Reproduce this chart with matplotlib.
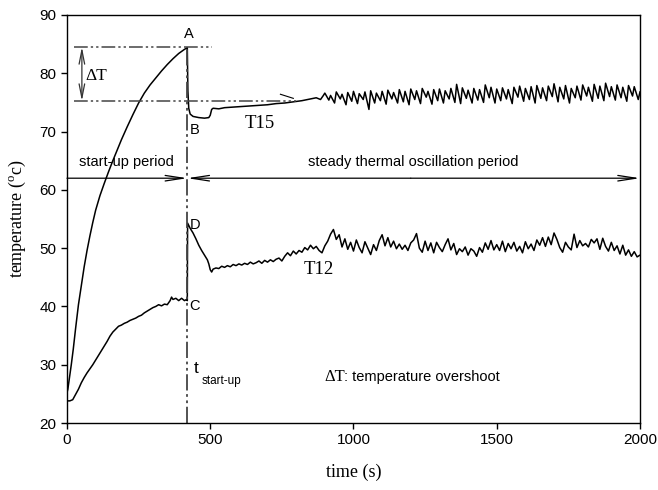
import numpy as np
import matplotlib
matplotlib.use("Agg")
import matplotlib.pyplot as plt

plt.rcParams['font.family'] = ['Liberation Sans', 'DejaVu Sans']

# --- T15: arranque y transicion (tiempo en s, temperatura en C) ---
t15_time = [0, 3, 8, 15, 22, 30, 40, 50, 60, 70, 80, 90, 100, 115, 130, 145,
            160, 175, 190, 210, 230, 250, 270, 290, 310, 330, 350, 370, 390,
            410, 420, 422, 425, 430, 440, 460, 480, 495, 500, 505, 510, 530,
            550, 580, 610, 640, 670, 700, 730, 760, 790, 820, 850, 870, 885, 895]
t15_temp = [25.2, 25.8, 27.5, 30.0, 32.7, 36.2, 40.3, 43.6, 46.8, 49.6, 52.1,
            54.4, 56.5, 59.0, 61.1, 63.1, 65.0, 66.8, 68.6, 70.8, 72.9, 74.9,
            76.6, 78.0, 79.2, 80.4, 81.5, 82.5, 83.4, 84.1, 84.4, 77.0, 74.0,
            73.0, 72.6, 72.4, 72.3, 72.4, 72.8, 73.8, 74.0, 73.9, 74.1, 74.2,
            74.3, 74.4, 74.5, 74.6, 74.8, 74.9, 75.1, 75.3, 75.6, 75.8, 75.5, 76.2]

# T15 oscilacion: picos y valles (un ciclo cada 20 s desde 900 s)
t15_peaks = [76.6, 76.2, 76.8, 76.4, 76.7, 76.9, 76.5, 76.8, 77.0, 76.6,
             76.9, 77.1, 76.7, 77.2, 76.9, 77.3, 77.0, 77.4, 76.9, 77.2,
             77.3, 77.0, 77.4, 78.1, 77.5, 77.1, 77.4, 77.2, 78.0, 77.6,
             77.3, 77.5, 77.2, 77.6, 77.8, 77.4, 77.7, 77.9, 77.5, 77.8,
             78.2, 77.6, 77.9, 77.4, 77.8, 78.0, 77.6, 78.1, 77.8, 78.3,
             77.7, 78.0, 77.6, 77.9, 77.7]
t15_dips = [75.4, 74.9, 75.6, 74.6, 75.2, 74.8, 75.5, 73.8, 74.9, 75.3,
            74.7, 75.6, 74.9, 75.1, 74.6, 75.5, 74.8, 75.9, 74.7, 75.3,
            74.9, 75.6, 75.0, 74.8, 75.7, 74.9, 75.4, 75.0, 75.8, 74.9,
            75.3, 75.6, 74.8, 75.9, 75.2, 75.5, 74.9, 75.7, 75.3, 76.0,
            75.1, 75.6, 74.9, 75.8, 75.4, 76.1, 75.2, 75.7, 75.3, 76.0,
            75.4, 75.8, 75.2, 76.1, 75.5]
t15_end = 76.8

# --- T12: arranque y salto ---
t12_time = [0, 10, 20, 30, 40, 50, 60, 70, 80, 90, 100, 110, 120, 130, 140,
            150, 160, 170, 180, 190, 200, 210, 220, 230, 240, 250, 260, 270,
            280, 290, 300, 310, 320, 330, 340, 350, 360, 365, 370, 380, 390,
            400, 410, 418, 420, 421, 425, 430, 440, 450, 460, 470, 480, 490,
            495, 500, 505]
t12_temp = [23.8, 23.8, 24.0, 24.9, 25.8, 26.9, 27.8, 28.6, 29.3, 30.0, 30.8,
            31.6, 32.4, 33.2, 34.0, 34.9, 35.6, 36.1, 36.6, 36.8, 37.1, 37.3,
            37.6, 37.8, 38.0, 38.3, 38.5, 38.9, 39.2, 39.5, 39.8, 40.0, 40.3,
            40.1, 40.4, 40.3, 41.0, 41.6, 41.2, 41.4, 41.0, 41.4, 41.0, 41.2,
            41.0, 54.3, 53.9, 53.4, 52.6, 51.6, 50.5, 49.6, 48.8, 48.0, 47.3,
            46.3, 45.9]

# T12 de 510 a 2000 s, cada 10 s
t12_noise = [46.4, 46.6, 46.5, 46.9, 46.7, 47.0, 46.8, 47.2, 47.0, 47.3,
             47.1, 47.4, 47.2, 47.6, 47.3, 47.5, 47.8, 47.4, 47.9, 47.6,
             48.0, 47.7, 48.1, 48.3, 47.8, 48.6, 49.2, 48.7, 49.5, 49.0,
             49.6, 49.3, 50.1, 49.7, 50.5, 49.9, 50.3, 49.6, 49.2, 50.4,
             51.2, 52.4, 53.2, 51.5, 52.3, 50.2, 51.6, 49.8, 51.0, 49.5,
             51.4, 50.1, 49.2, 51.1, 50.0, 48.9, 50.6, 49.6, 51.3, 52.3,
             50.4, 51.8, 50.2, 51.2, 49.9, 50.7, 49.8, 50.5, 49.6, 50.9,
             51.4, 52.5, 50.0, 49.3, 51.2, 49.6, 50.9, 49.2, 51.0, 50.1,
             49.4, 50.6, 51.6, 49.7, 50.8, 48.9, 49.9, 49.4, 50.2, 48.8,
             49.9, 49.5, 48.6, 50.1, 49.3, 50.9, 49.8, 51.3, 49.7, 50.6,
             49.6, 51.2, 49.4, 50.8, 49.9, 51.0, 49.5, 50.3, 49.2, 51.1,
             49.9, 50.7, 49.6, 51.4, 50.5, 51.8, 50.3, 51.9, 50.6, 52.6,
             51.5, 50.1, 49.3, 51.0, 50.2, 49.7, 52.4, 50.1, 51.3, 50.4,
             50.8, 50.2, 51.5, 50.9, 51.6, 49.8, 51.7, 50.3, 49.5, 51.0,
             49.6, 50.4, 49.0, 50.5, 48.8, 49.7, 48.6, 49.4, 48.5, 48.8]

t_startup = 420
t_A, T_A = 420, 84.5     # pico de T15 (nivel superior de delta T)
T_B_level = 75.25         # nivel inferior de delta T
T_period_line = 62

x_ticks = [0, 500, 1000, 1500, 2000]
y_ticks = [20, 30, 40, 50, 60, 70, 80, 90]

# construir series completas
peak_t = np.arange(900, 2000, 20)
osc_t = np.ravel(np.column_stack([peak_t, peak_t + 14]))
osc_v = np.ravel(np.column_stack([t15_peaks, t15_dips]))
t15_x = np.concatenate([t15_time, osc_t, [2000]])
t15_y = np.concatenate([t15_temp, osc_v, [t15_end]])

t12_x = np.concatenate([t12_time, np.arange(510, 2001, 10)])
t12_y = np.concatenate([t12_temp, t12_noise])

fig = plt.figure(figsize=(6.58, 4.90), dpi=100)
ax = fig.add_axes([0.1018, 0.1367, 0.8708, 0.8327])

ax.plot(t15_x, t15_y, color='black', lw=1.1)
ax.plot(t12_x, t12_y, color='black', lw=1.1)

dd = (0, (9, 2, 1.5, 2, 1.5, 2))
ax.plot([t_startup, t_startup], [20, T_A - 0.4], color='#444444', lw=1.3, ls=dd)
ax.plot([25, 505], [T_A, T_A], color='#444444', lw=1.1, ls=dd)
ax.plot([25, 800], [T_B_level, T_B_level], color='#444444', lw=1.1, ls=dd)
ax.plot([745, 790], [76.4, 75.7], color='black', lw=0.8)

# flecha delta T
ax.annotate('', xy=(52, T_A), xytext=(52, T_B_level),
            arrowprops=dict(arrowstyle='<->,head_length=1.0,head_width=0.2',
                            color='#333333', lw=0.9, shrinkA=0, shrinkB=0))

# linea de periodos con flechas
ap = dict(arrowstyle='->,head_length=1.3,head_width=0.2', color='black',
          lw=0.9, shrinkA=0, shrinkB=0)
ax.annotate('', xy=(t_startup, T_period_line), xytext=(0, T_period_line), arrowprops=ap)
ax.annotate('', xy=(t_startup, T_period_line), xytext=(1200, T_period_line), arrowprops=ap)
ax.annotate('', xy=(2000, T_period_line), xytext=(1200, T_period_line), arrowprops=ap)

ax.text(424, 86.8, 'A', fontsize=10.5, ha='center', va='center')
ax.text(428, 70.2, 'B', fontsize=10.5, ha='left', va='center')
ax.text(428, 40.0, 'C', fontsize=10.5, ha='left', va='center')
ax.text(428, 53.9, 'D', fontsize=10.5, ha='left', va='center')
ax.text(672, 71.4, 'T15', fontsize=13.5, family='Liberation Serif', ha='center', va='center')
ax.text(878, 46.3, 'T12', fontsize=13.5, family='Liberation Serif', ha='center', va='center')
ax.text(63, 79.6, 'ΔT', fontsize=12.5, family='Liberation Serif', ha='left', va='center')
ax.text(208, 64.8, 'start-up period', fontsize=10.5, ha='center', va='center')
ax.text(1207, 64.8, 'steady thermal oscillation period', fontsize=10.5, ha='center', va='center')
ax.text(443, 29.3, 't', fontsize=12.5, ha='left', va='center')
ax.text(470, 27.2, 'start-up', fontsize=8.5, ha='left', va='center')
ax.text(900, 27.9, 'ΔT', fontsize=12, family='Liberation Serif', ha='left', va='center')
ax.text(966, 27.9, ': temperature overshoot', fontsize=10.5, ha='left', va='center')

ax.set_xlim(0, 2000)
ax.set_ylim(20, 90)
ax.set_xticks(x_ticks)
ax.set_yticks(y_ticks)
ax.tick_params(direction='out', length=4, width=1, labelsize=11, top=False, right=False)
for s in ax.spines.values():
    s.set_linewidth(1.0)

ax.set_xlabel('time (s)', fontsize=13, family='Liberation Serif', labelpad=12)
ax.set_ylabel('temperature ($\\mathregular{^o}$c)', fontsize=13, family='Liberation Serif', labelpad=8)

fig.savefig('out.png', dpi=100)
